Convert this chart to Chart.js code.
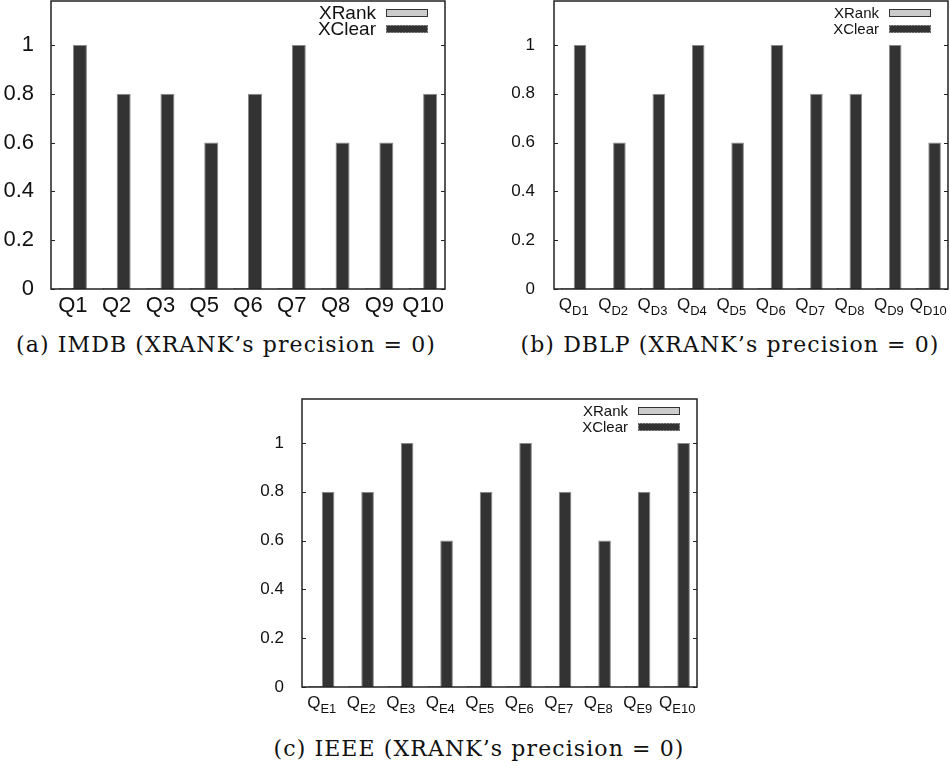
<!doctype html>
<html lang="en">
  <head>
    <meta charset="utf-8">
    <title>XRank vs XClear precision</title>
    <script src="https://cdn.jsdelivr.net/npm/chart.js@4.4.1/dist/chart.umd.min.js"></script>
    <style>
      body { margin: 0; background: #fff; width: 950px; height: 767px; position: relative; overflow: hidden; }
      .box { position: absolute; }
      .cap { position: absolute; font-family: 'DejaVu Serif', serif; font-size: 22px; line-height: 26px; letter-spacing: 1.1px; color: #111; white-space: nowrap; transform: translateX(-50%); }
    </style>
  </head>
  <body>
    <div class="box" style="left:0;top:0;width:452px;height:322px"><canvas id="imdb"></canvas></div>
    <div class="box" style="left:480px;top:0;width:470px;height:322px"><canvas id="dblp"></canvas></div>
    <div class="box" style="left:240px;top:390px;width:470px;height:330px"><canvas id="ieee"></canvas></div>

    <div class="cap" style="left:226px;top:332px">(a) IMDB (XRANK’s precision = 0)</div>
    <div class="cap" style="left:730px;top:332px">(b) DBLP (XRANK’s precision = 0)</div>
    <div class="cap" style="left:479px;top:736px">(c) IEEE (XRANK’s precision = 0)</div>

    <script>
        // data
        var seriesNames = ['XRank', 'XClear'];
        var yTicks = [0, 0.2, 0.4, 0.6, 0.8, 1];

        var imdbLabels = ['Q1', 'Q2', 'Q3', 'Q5', 'Q6', 'Q7', 'Q8', 'Q9', 'Q10'];
        var imdbXRank = [0, 0, 0, 0, 0, 0, 0, 0, 0];
        var imdbXClear = [1, 0.8, 0.8, 0.6, 0.8, 1, 0.6, 0.6, 0.8];

        var dblpLabels = ['D1', 'D2', 'D3', 'D4', 'D5', 'D6', 'D7', 'D8', 'D9', 'D10'];
        var dblpXRank = [0, 0, 0, 0, 0, 0, 0, 0, 0, 0];
        var dblpXClear = [1, 0.6, 0.8, 1, 0.6, 1, 0.8, 0.8, 1, 0.6];

        var ieeeLabels = ['E1', 'E2', 'E3', 'E4', 'E5', 'E6', 'E7', 'E8', 'E9', 'E10'];
        var ieeeXRank = [0, 0, 0, 0, 0, 0, 0, 0, 0, 0];
        var ieeeXClear = [0.8, 0.8, 1, 0.6, 0.8, 1, 0.8, 0.6, 0.8, 1];

        var SANS = "'Liberation Sans', Arial, sans-serif";

        // frame, inward ticks, x labels (with subscripts) and legend, gnuplot style
        var gnuplotLook = {
            id: 'gnuplotLook',
            afterDraw: function (chart, args, o) {
                var ctx = chart.ctx;
                var a = chart.chartArea;
                var y = chart.scales.y;
                var x = chart.scales.x;
                ctx.save();
                ctx.strokeStyle = '#222';
                ctx.lineWidth = 1.5;
                ctx.strokeRect(a.left, a.top, a.right - a.left, a.bottom - a.top);

                ctx.lineWidth = 1;
                y.ticks.forEach(function (t) {
                    var py = Math.round(y.getPixelForValue(t.value)) + 0.5;
                    ctx.beginPath();
                    ctx.moveTo(a.left, py); ctx.lineTo(a.left + 4, py);
                    ctx.moveTo(a.right, py); ctx.lineTo(a.right - 4, py);
                    ctx.stroke();
                });

                // x labels
                ctx.fillStyle = '#111';
                ctx.textBaseline = 'alphabetic';
                chart.data.labels.forEach(function (lab, i) {
                    var cx = x.getPixelForValue(i);
                    var base = a.bottom + o.labelDrop;
                    if (o.sub) {
                        ctx.font = o.mainSize + 'px ' + SANS;
                        var wq = ctx.measureText('Q').width;
                        ctx.font = o.subSize + 'px ' + SANS;
                        var ws = ctx.measureText(lab).width;
                        var left = cx - (wq + ws) / 2;
                        ctx.textAlign = 'left';
                        ctx.font = o.mainSize + 'px ' + SANS;
                        ctx.fillText('Q', left, base);
                        ctx.font = o.subSize + 'px ' + SANS;
                        ctx.fillText(lab, left + wq, base + 5);
                    } else {
                        ctx.font = o.mainSize + 'px ' + SANS;
                        ctx.textAlign = 'center';
                        ctx.fillText(lab, cx, base);
                    }
                });

                // legend, top right inside the frame
                var sw = 42, sh = 8;
                var sx = a.right - 17 - sw;
                ctx.font = o.legendSize + 'px ' + SANS;
                ctx.textAlign = 'right';
                ctx.textBaseline = 'middle';
                chart.data.datasets.forEach(function (ds, i) {
                    var top = a.top + 8 + i * 16;
                    ctx.fillStyle = '#111';
                    ctx.fillText(ds.label, sx - 10, top + sh / 2 + 0.5);
                    ctx.fillStyle = ds.backgroundColor;
                    ctx.fillRect(sx, top, sw, sh);
                    ctx.strokeStyle = i === 0 ? '#333' : '#999';
                    ctx.setLineDash(i === 0 ? [] : [2, 1]);
                    ctx.strokeRect(sx + 0.5, top + 0.5, sw - 1, sh - 1);
                    ctx.setLineDash([]);
                });
                ctx.restore();
            }
        };

        function drawGraph(id, labels, xrank, xclear, look) {
            var ctx = document.getElementById(id).getContext('2d');
            return new Chart(ctx, {
                type: 'bar',
                data: {
                    labels: labels,
                    datasets: [
                        {
                            label: seriesNames[0],
                            data: xrank,
                            backgroundColor: '#cccccc',
                            borderColor: '#333333',
                            borderWidth: 1,
                            minBarLength: 1
                        },
                        {
                            label: seriesNames[1],
                            data: xclear,
                            backgroundColor: '#333333',
                            borderColor: '#8a8a8a',
                            borderWidth: 1
                        }
                    ]
                },
                options: {
                    responsive: true,
                    maintainAspectRatio: false,
                    animation: false,
                    categoryPercentage: 0.64,
                    barPercentage: 1.0,
                    layout: { padding: look.padding },
                    plugins: {
                        legend: { display: false },
                        tooltip: { enabled: false },
                        gnuplotLook: look
                    },
                    scales: {
                        x: {
                            grid: { display: false },
                            border: { display: false },
                            ticks: { display: false },
                            afterFit: function (s) { s.height = look.xHeight; }
                        },
                        y: {
                            min: 0,
                            max: 1.18,
                            grid: { display: false },
                            border: { display: false },
                            afterBuildTicks: function (s) {
                                s.ticks = yTicks.map(function (v) { return { value: v }; });
                            },
                            ticks: {
                                padding: look.yPad,
                                color: '#111',
                                font: { family: SANS, size: look.ySize },
                                callback: function (v) { return String(v); }
                            },
                            afterFit: function (s) {
                                s.width = look.yWidth;
                                s.paddingTop = 0;
                                s.paddingBottom = 0;
                            }
                        }
                    }
                },
                plugins: [gnuplotLook]
            });
        }

        drawGraph('imdb', imdbLabels, imdbXRank, imdbXClear, {
            padding: { top: 1, right: 7, bottom: 0, left: 0 },
            xHeight: 33, yWidth: 51, yPad: 9, ySize: 22,
            sub: false, mainSize: 22, labelDrop: 23, legendSize: 19
        });
        drawGraph('dblp', dblpLabels, dblpXRank, dblpXClear, {
            padding: { top: 1, right: 2, bottom: 0, left: 0 },
            xHeight: 33, yWidth: 74, yPad: 11, ySize: 17,
            sub: true, mainSize: 17, subSize: 13, labelDrop: 21, legendSize: 15
        });
        drawGraph('ieee', ieeeLabels, ieeeXRank, ieeeXClear, {
            padding: { top: 9, right: 13, bottom: 0, left: 0 },
            xHeight: 33, yWidth: 62, yPad: 10, ySize: 17,
            sub: true, mainSize: 17, subSize: 13, labelDrop: 21, legendSize: 15
        });
    </script>
  </body>
</html>
